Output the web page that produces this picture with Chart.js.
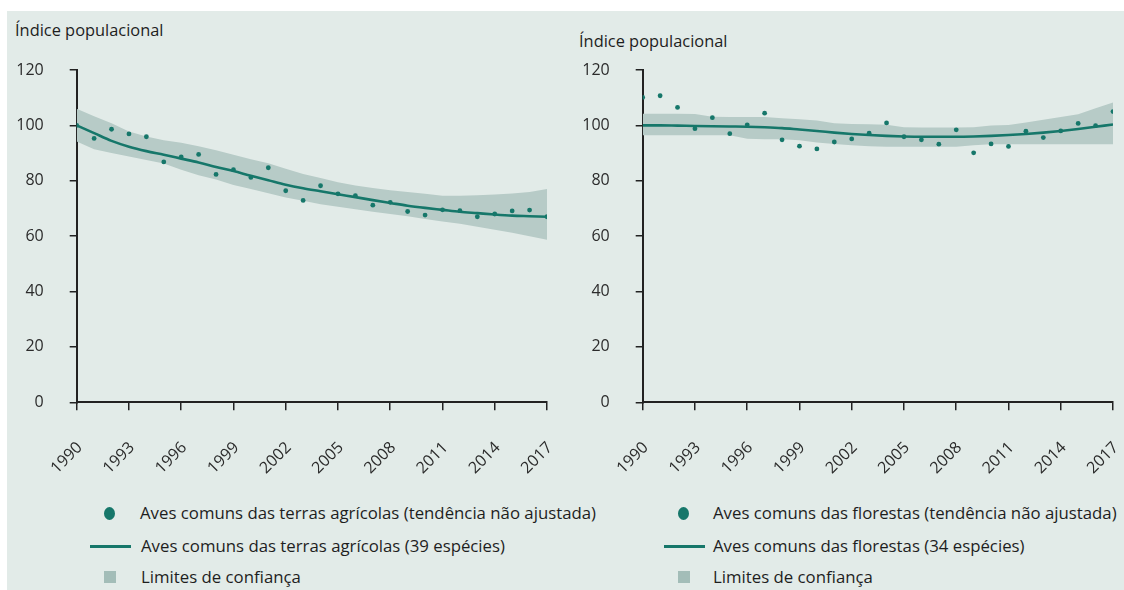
<!DOCTYPE html>
<html lang="pt">
<head>
<meta charset="utf-8">
<script src="https://cdn.jsdelivr.net/npm/chart.js@4"></script>
<style>
    html, body { margin: 0; padding: 0; width: 1124px; height: 590px; overflow: hidden; background: #ffffff; font-family: 'Open Sans', sans-serif; }
    #painel { position: absolute; left: 7px; top: 11px; right: 0; bottom: 0; background: #e2ebe8; }
    .titulo { position: absolute; font-size: 16.4px; line-height: 22px; color: #1e1e1e; white-space: nowrap; }
    .grafico { position: absolute; top: 0; height: 480px; }
    .texto { position: absolute; font-size: 16.8px; line-height: 22px; color: #1e1e1e; white-space: nowrap; }
    .bola { position: absolute; width: 11px; height: 13px; border-radius: 50%; background: #16776a; }
    .traco { position: absolute; width: 41px; height: 2.5px; background: #16776a; }
    .quadrado { position: absolute; width: 12px; height: 12px; background: #a3bdb8; }
</style>
</head>
<body>
<div id="painel"></div>

<div class="titulo" style="left:15px; top:19px">Índice populacional</div>
<div class="titulo" style="left:579px; top:30px">Índice populacional</div>

<div class="grafico" style="left:0; width:597px"><canvas id="graficoAgricolas"></canvas></div>
<div class="grafico" style="left:560px; width:603px"><canvas id="graficoFlorestas"></canvas></div>

<!-- legenda esquerda -->
<div class="bola" style="left:104px; top:507px"></div>
<div class="texto" style="left:140px; top:502px">Aves comuns das terras agrícolas (tendência não ajustada)</div>
<div class="traco" style="left:90px; top:545px"></div>
<div class="texto" style="left:141px; top:535px">Aves comuns das terras agrícolas (39 espécies)</div>
<div class="quadrado" style="left:104px; top:571px"></div>
<div class="texto" style="left:141px; top:566px">Limites de confiança</div>

<!-- legenda direita -->
<div class="bola" style="left:678px; top:507px"></div>
<div class="texto" style="left:713px; top:502px">Aves comuns das florestas (tendência não ajustada)</div>
<div class="traco" style="left:664px; top:545px"></div>
<div class="texto" style="left:713px; top:535px">Aves comuns das florestas (34 espécies)</div>
<div class="quadrado" style="left:678px; top:571px"></div>
<div class="texto" style="left:713px; top:566px">Limites de confiança</div>

<script>
// Dados
const anos = [1990, 1991, 1992, 1993, 1994, 1995, 1996, 1997, 1998, 1999, 2000, 2001, 2002, 2003,
              2004, 2005, 2006, 2007, 2008, 2009, 2010, 2011, 2012, 2013, 2014, 2015, 2016, 2017];
const ticksAnos = [1990, 1993, 1996, 1999, 2002, 2005, 2008, 2011, 2014, 2017];
const ticksIndice = [0, 20, 40, 60, 80, 100, 120];

// Aves das terras agrícolas
const agricolasPontos = [100, 95.3, 98.6, 96.9, 95.9, 86.8, 88.6, 89.5, 82.3, 84, 81.2, 84.7, 76.4, 72.9,
                         78.2, 75.3, 74.6, 71.2, 72.2, 68.9, 67.6, 69.5, 69.2, 67, 68, 69.1, 69.4, 67];
const agricolasTendencia = [100, 97.2, 94.4, 92.3, 90.7, 89.4, 88, 86.6, 85, 83.5, 81.8, 80.2, 78.6, 77.3,
                            76.2, 75.1, 74.1, 73, 72, 71, 70.2, 69.5, 68.8, 68.3, 67.8, 67.4, 67.2, 67];
const agricolasSuperior = [106, 103.3, 100.8, 97.8, 96, 94.6, 93.7, 92.5, 91, 89.4, 87.8, 86.3, 84.3, 82.4,
                           81, 79.5, 78.3, 77.4, 76.6, 75.9, 75.3, 74.6, 74.6, 74.8, 75, 75.4, 75.9, 77];
const agricolasInferior = [94.2, 91.4, 90, 88.8, 87.5, 86.2, 84, 82, 80.5, 78.5, 77, 75.5, 74, 72.8,
                           71.5, 70.6, 69.7, 68.8, 68, 67.2, 66.2, 65.3, 64.5, 63.4, 62.3, 61.2, 60, 58.7];

// Aves das florestas
const florestasPontos = [110.1, 110.7, 106.5, 98.8, 102.8, 97, 100.2, 104.4, 94.8, 92.5, 91.5, 94, 95.1, 97.2,
                         100.9, 95.9, 94.8, 93.2, 98.4, 90.1, 93.3, 92.4, 97.9, 95.6, 98, 100.7, 99.9, 105];
const florestasTendencia = [100, 100, 99.9, 99.8, 99.7, 99.6, 99.5, 99.3, 99, 98.5, 98, 97.4, 96.9, 96.5,
                            96.2, 96, 95.9, 95.9, 95.9, 96, 96.2, 96.5, 96.9, 97.4, 98, 98.7, 99.5, 100.3];
const florestasSuperior = [104.2, 104.2, 104.2, 104.1, 103.1, 103, 103, 103, 102.6, 102.2, 101.8, 100.8, 100.5, 100.4,
                           100.2, 99.3, 99.2, 99.2, 99.2, 99.3, 100, 100.1, 101, 102, 103, 104, 106.2, 108.3];
const florestasInferior = [96.4, 96.4, 96.4, 96.4, 96.4, 96.4, 95.2, 95, 95, 94.6, 93.8, 93.3, 92.8, 92.5,
                           92.3, 92.3, 92.3, 92.3, 92.3, 92.8, 93.2, 93.2, 93.2, 93.2, 93.2, 93.2, 93.2, 93.2];

const corLinha = '#16776a';
const corFaixa = '#b7cbc7';
const corEixo = '#222222';

Chart.defaults.font.family = "'Open Sans', sans-serif";

function emPares(valores) {
    return anos.map((ano, i) => ({ x: ano, y: valores[i] }));
}

function criarGrafico(idCanvas, pontos, tendencia, superior, inferior, larguraEixoY) {
    const ctx = document.getElementById(idCanvas).getContext('2d');
    return new Chart(ctx, {
        type: 'line',
        data: {
            datasets: [
                { data: emPares(pontos), showLine: false, pointRadius: 2.4, pointBackgroundColor: corLinha, pointBorderWidth: 0 },
                { data: emPares(tendencia), borderColor: corLinha, borderWidth: 2.6, pointRadius: 0, cubicInterpolationMode: 'monotone' },
                { data: emPares(superior), borderWidth: 0, pointRadius: 0, backgroundColor: corFaixa, fill: '+1', tension: 0 },
                { data: emPares(inferior), borderWidth: 0, pointRadius: 0, fill: false, tension: 0 }
            ]
        },
        options: {
            responsive: true, maintainAspectRatio: false, animation: false,
            layout: { padding: { top: 70, right: 50, left: 0, bottom: 0 } },
            plugins: { legend: { display: false }, tooltip: { enabled: false } },
            scales: {
                x: {
                    type: 'linear', min: 1990, max: 2017,
                    afterBuildTicks: s => { s.ticks = ticksAnos.map(v => ({ value: v })); },
                    afterFit: s => { s.height = 480 - 402.3; },
                    grid: { drawOnChartArea: false, color: corEixo, lineWidth: 1.5, tickLength: 8 },
                    border: { color: corEixo, width: 2 },
                    ticks: { color: '#2b2b2b', font: { size: 16 }, minRotation: 45, maxRotation: 45, padding: 28, labelOffset: 3, callback: v => String(v) }
                },
                y: {
                    min: 0, max: 120,
                    afterBuildTicks: s => { s.ticks = ticksIndice.map(v => ({ value: v })); },
                    afterFit: s => { s.width = larguraEixoY; },
                    grid: { drawOnChartArea: false, color: corEixo, lineWidth: 1.5, tickLength: 7 },
                    border: { color: corEixo, width: 2 },
                    ticks: { color: '#2b2b2b', font: { size: 16 }, padding: 26 }
                }
            }
        }
    });
}

criarGrafico('graficoAgricolas', agricolasPontos, agricolasTendencia, agricolasSuperior, agricolasInferior, 76.7);
criarGrafico('graficoFlorestas', florestasPontos, florestasTendencia, florestasSuperior, florestasInferior, 82.7);
</script>
</body>
</html>
